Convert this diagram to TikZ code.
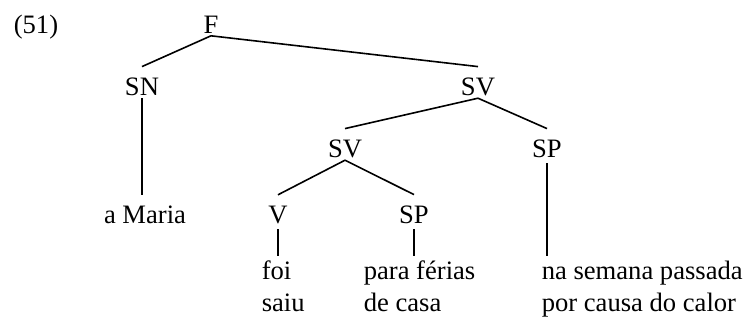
\documentclass[tikz,border=0pt]{standalone}
\usepackage{fontspec}
\setmainfont{Liberation Serif}

\begin{document}
\begin{tikzpicture}[%
    x=0.5pt, y=-0.5pt,                      % one unit is one pixel of the scan
    font=\fontsize{13.3}{16}\selectfont,    % Times-like text throughout
    line width=0.8pt,
    ]
% -------------------------------------------------
% Styles for the tree
\tikzset{
  cat/.style={anchor=base, inner sep=1pt},
  leaf/.style={anchor=north west, inner sep=1pt, align=left},
  stem/.style={draw, shorten <=1.5pt, shorten >=1pt},
}
\useasboundingbox (0,0) rectangle (746,323);
% -------------------------------------------------
% Category labels, row by row
\node [cat, anchor=base west] (ex) at (11,33) {(51)};
\node [cat] (f)   at (211,33)  {F};
\node [cat] (sn)  at (142,95)  {SN};
\node [cat] (sv)  at (478,95)  {SV};
\node [cat] (svv) at (345,157) {SV};
\node [cat] (spa) at (547,157) {SP};
\node [cat] (np)  at (145,223) {a Maria};
\node [cat] (v)   at (278,223) {V};
\node [cat] (spb) at (414,223) {SP};
% Words at the bottom
\node [leaf] (verb)    at (259,258) {foi\\saiu};
\node [leaf] (goal)    at (361,258) {para férias\\de casa};
\node [leaf] (adjunct) at (539,258) {na semana passada\\por causa do calor};
% -------------------------------------------------
% Branches
\draw (f.south)   -- ([yshift=4pt]sn.north);
\draw (f.south)   -- ([yshift=4pt]sv.north);
\draw (sv.south)  -- ([yshift=4pt]svv.north);
\draw (sv.south)  -- ([yshift=4pt]spa.north);
\draw (svv.south) -- ([yshift=4pt]v.north);
\draw (svv.south) -- ([yshift=4pt]spb.north);
\draw (sn.south)  -- ([yshift=4pt]sn.south |- np.north);
% Stems down to the words
\draw [stem] (v.south)   -- (v.south |- verb.north);
\draw [stem] (spb.south) -- (spb.south |- goal.north);
\draw [stem] (spa.south) -- (spa.south |- adjunct.north);
% -------------------------------------------------
\end{tikzpicture}
\end{document}
